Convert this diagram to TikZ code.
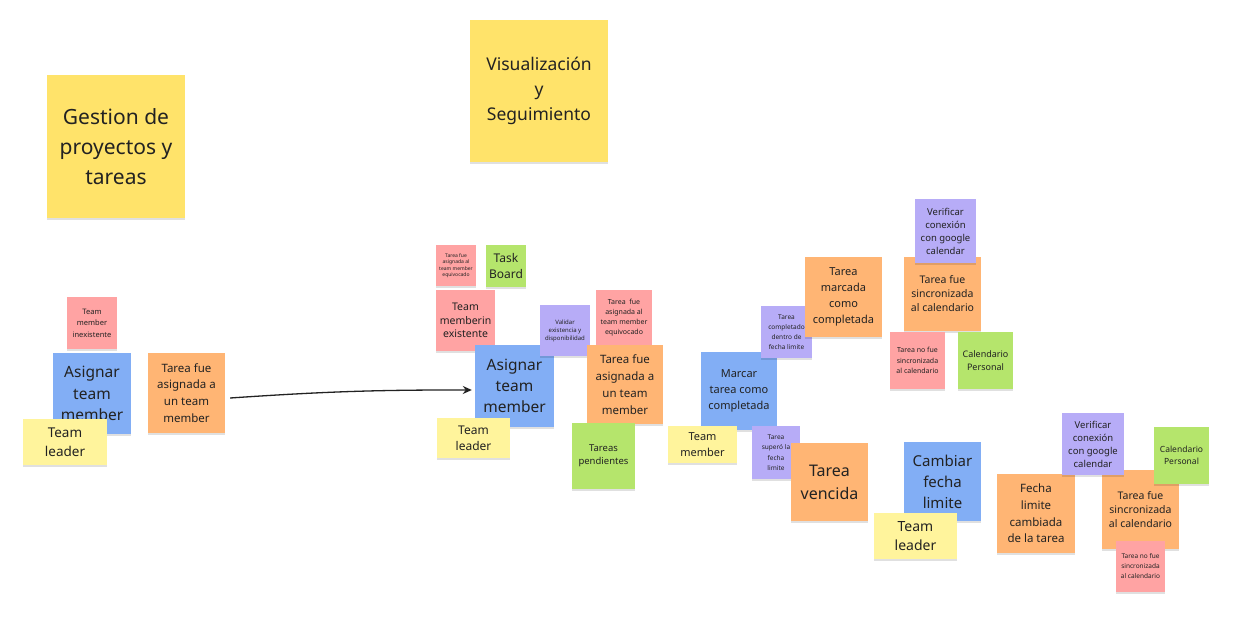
\documentclass[tikz,border=0pt]{standalone}
\usepackage{fontspec}
\setmainfont{Noto Sans}
\usetikzlibrary{arrows.meta,shadows}
\definecolor{cyel}{HTML}{FFE36A}
\definecolor{clyel}{HTML}{FFF49C}
\definecolor{cpink}{HTML}{FFA3A3}
\definecolor{cblue}{HTML}{82AEF5}
\definecolor{corange}{HTML}{FFB574}
\definecolor{cgreen}{HTML}{B5E56C}
\definecolor{cpurple}{HTML}{B7ACF7}
\definecolor{ctext}{HTML}{222222}
\tikzset{
  stickynote/.style={inner sep=0pt, align=center, text=ctext,
    drop shadow={shadow xshift=0pt, shadow yshift=-1.5pt, opacity=0.12, fill=black}},
  link/.style={-{Stealth[length=9pt,width=8pt]}, line width=1.3pt, draw=ctext}
}
% name, colour, x1, y1, x2, y2, font size, line skip, text
\newcommand\stick[9]{%
  \node[stickynote, fill=#2, minimum width={#5-#3}, minimum height={#6-#4},
        font=\fontsize{#7}{#8}\selectfont]
        (#1) at ({(#3+#5)/2},{(#4+#6)/2}) {#9};}
\begin{document}
\begin{tikzpicture}[x=1pt,y=-1pt]
\fill[white] (0,0) rectangle (1234,621);
\useasboundingbox (0,0) rectangle (1234,621);

\stick{gestion}{cyel}{47}{75}{185}{218}{21}{30}{Gestion de\\proyectos y\\tareas}
\stick{visual}{cyel}{470}{20}{608}{162}{17.5}{25}{Visualización\\y\\Seguimiento}

% left group
\stick{inex}{cpink}{67}{297}{117}{349}{7.5}{11.5}{Team\\member\\inexistente}
\stick{asigA}{cblue}{53}{353}{131}{434}{15.5}{21.5}{Asignar\\team\\member}
\stick{leadA}{clyel}{23}{419}{107}{465}{13.5}{19}{Team\\leader}
\stick{fueA}{corange}{148}{353}{225}{433}{11.5}{16.7}{Tarea fue\\asignada a\\un team\\member}

% middle group
\stick{tinyP}{cpink}{436}{245}{476}{286}{5}{6.5}{Tarea fue\\asignada al\\team member\\equivocado}
\stick{board}{cgreen}{486}{245}{526}{287}{12}{16}{Task\\Board}
\stick{memex}{cpink}{436}{290}{495}{351}{10.5}{13.5}{Team\\memberin\\existente}
\stick{asigB}{cblue}{475}{345}{554}{427}{15.5}{21}{Asignar\\team\\member}
\stick{valid}{cpurple}{540}{305}{590}{356}{6}{8}{Validar\\existencia y\\disponibilidad}
\stick{equiv}{cpink}{596}{290}{652}{345}{7}{10}{Tarea \ fue\\asignada al\\team member\\equivocado}
\stick{fueB}{corange}{587}{345}{663}{424}{11.5}{17}{Tarea fue\\asignada a\\un team\\member}
\stick{leadB}{clyel}{437}{418}{510}{458}{12}{16}{Team\\leader}
\stick{pend}{cgreen}{572}{423}{635}{489}{9.5}{13}{Tareas\\pendientes}

% completion group
\stick{marcar}{cblue}{701}{352}{777}{430}{11}{16}{Marcar\\tarea como\\completada}
\stick{dentro}{cpurple}{761}{306}{812}{358}{6.5}{10}{Tarea\\completado\\dentro de\\fecha limite}
\stick{marcada}{corange}{805}{257}{882}{337}{11}{16}{Tarea\\marcada\\como\\completada}
\stick{memC}{clyel}{668}{426}{737}{463}{11}{16}{Team\\member}
\stick{supero}{cpurple}{752}{426}{800}{479}{6.5}{10.5}{Tarea\\superó la\\fecha\\limite}
\stick{vencida}{corange}{791}{443}{868}{521}{16}{23}{Tarea\\vencida}

% sync group
\stick{sincA}{corange}{904}{257}{981}{331}{10.5}{14}{Tarea fue\\sincronizada\\al calendario}
\stick{verA}{cpurple}{915}{199}{976}{263}{9.5}{13}{Verificar\\conexión\\con google\\calendar}
\stick{nosincA}{cpink}{890}{332}{945}{389}{7}{10.5}{Tarea no fue\\sincronizada\\al calendario}
\stick{calA}{cgreen}{958}{332}{1013}{389}{9}{13}{Calendario\\Personal}

% deadline group
\stick{cambiar}{cblue}{904}{442}{981}{521}{15}{21}{Cambiar\\fecha\\limite}
\stick{leadD}{clyel}{874}{513}{957}{559}{14}{19}{Team\\leader}
\stick{fechaD}{corange}{997}{474}{1075}{553}{11.5}{16.7}{Fecha\\limite\\cambiada\\de la tarea}
\stick{sincB}{corange}{1102}{470}{1179}{549}{10.5}{14}{Tarea fue\\sincronizada\\al calendario}
\stick{verB}{cpurple}{1062}{413}{1124}{475}{9.5}{13}{Verificar\\conexión\\con google\\calendar}
\stick{calB}{cgreen}{1154}{427}{1209}{484}{8.5}{11.5}{Calendario\\Personal}
\stick{nosincB}{cpink}{1116}{541}{1165}{592}{6.5}{10}{Tarea no fue\\sincronizada\\al calendario}

% connector
\draw[link] ([shift={(5,5)}]fueA.east) to[bend left=2] ([shift={(-3,4)}]asigB.west);
\end{tikzpicture}
\end{document}
